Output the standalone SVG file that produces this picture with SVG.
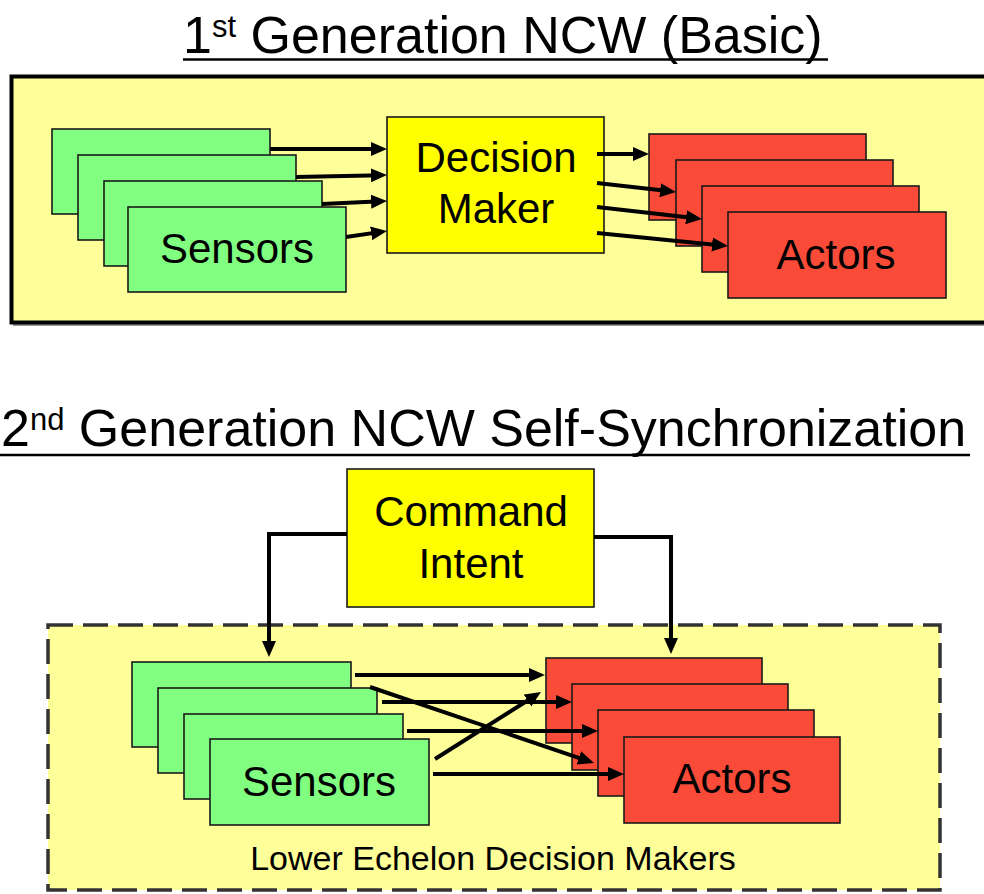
<svg xmlns="http://www.w3.org/2000/svg" width="984" height="894" viewBox="0 0 984 894">
<defs>
<style>
text{font-family:"Liberation Sans",Arial,sans-serif;fill:#000}
.title{font-size:52px}
.lbl{font-size:42px;text-anchor:middle}
.sens{fill:#80FF80;stroke:#1a1a1a;stroke-width:1.6}
.act{fill:#FA4B38;stroke:#1a1a1a;stroke-width:1.6}
.yel{fill:#FFFF00;stroke:#1a1a1a;stroke-width:1.6}
.arr{fill:none;stroke:#000;stroke-width:4;marker-end:url(#ah)}
</style>
<marker id="ah" markerUnits="userSpaceOnUse" markerWidth="18" markerHeight="16" refX="10" refY="7" orient="auto">
<path d="M0,0 L16,7 L0,14 z" fill="#000"/>
</marker>
</defs>
<rect width="984" height="894" fill="#fff"/>

<g id="title1">
<text class="title" x="183" y="53">1<tspan font-size="31" dy="-16">st</tspan><tspan dy="16"> Generation NCW (Basic)</tspan></text>
<line x1="183" y1="59.5" x2="828" y2="59.5" stroke="#000" stroke-width="2.5"/>
</g>

<g id="panel1">
<rect x="13" y="78" width="980" height="248" fill="#999"/>
<rect x="11.5" y="76.5" width="980" height="246" fill="#FFFF99" stroke="#000" stroke-width="4"/>
</g>

<g id="sensors1">
<rect class="sens" x="52" y="129" width="218" height="85"/>
<rect class="sens" x="78" y="155" width="218" height="85"/>
<rect class="sens" x="104" y="181" width="218" height="85"/>
<rect class="sens" x="128" y="207" width="218" height="85"/>
<text class="lbl" x="237" y="263">Sensors</text>
</g>

<g id="decision-maker">
<rect class="yel" x="387" y="117" width="217" height="136"/>
<text class="lbl" x="496" y="172">Decision</text>
<text class="lbl" x="496" y="223">Maker</text>
</g>

<g id="actors1">
<rect class="act" x="649" y="134" width="217" height="86"/>
<rect class="act" x="676" y="160" width="217" height="86"/>
<rect class="act" x="702" y="186" width="217" height="86"/>
<rect class="act" x="728" y="212" width="218" height="86"/>
<text class="lbl" x="836" y="269">Actors</text>
</g>

<g id="title2">
<text class="title" x="1" y="446">2<tspan font-size="31" dy="-16">nd</tspan><tspan dy="16"> Generation NCW Self-Synchronization</tspan></text>
<line x1="0" y1="455" x2="970" y2="455" stroke="#000" stroke-width="2.5"/>
</g>

<g id="command-intent">
<rect class="yel" x="347" y="469" width="247" height="138"/>
<text class="lbl" x="471" y="526">Command</text>
<text class="lbl" x="471" y="578">Intent</text>
</g>

<g id="lower-echelon">
<rect x="48" y="625" width="892" height="265" fill="#FFFF99" stroke="#333" stroke-width="3.5" stroke-dasharray="25 10"/>
<text x="493" y="870" font-size="34" text-anchor="middle">Lower Echelon Decision Makers</text>
</g>

<g id="sensors2">
<rect class="sens" x="132" y="662" width="219" height="85"/>
<rect class="sens" x="158" y="688" width="219" height="85"/>
<rect class="sens" x="184" y="714" width="219" height="85"/>
<rect class="sens" x="210" y="739" width="219" height="86"/>
<text class="lbl" x="319" y="796">Sensors</text>
</g>

<g id="actors2">
<rect class="act" x="546" y="658" width="216" height="85"/>
<rect class="act" x="572" y="684" width="216" height="86"/>
<rect class="act" x="598" y="710" width="216" height="86"/>
<rect class="act" x="624" y="737" width="216" height="86"/>
<text class="lbl" x="732" y="793">Actors</text>
</g>

<g id="connectors">
<path class="arr" d="M270,149 L381,149"/>
<path class="arr" d="M296,177 L381,175.13"/>
<path class="arr" d="M322,204 L381,201.28"/>
<path class="arr" d="M346,237 L381.06,231.87"/>
<path class="arr" d="M597,154 L643,154"/>
<path class="arr" d="M597,183 L670.04,191.32"/>
<path class="arr" d="M597,207 L696.04,218.32"/>
<path class="arr" d="M597,233 L722.03,245.41"/>
<path class="arr" d="M347,534 H269 V651"/>
<path class="arr" d="M594,537 H671 V648"/>
<path class="arr" d="M355,675 L539,675"/>
<path class="arr" d="M382,702 L566,702"/>
<path class="arr" d="M407,731 L592,731"/>
<path class="arr" d="M433,774 L618,774"/>
<path class="arr" d="M370,687 L588.32,761.07"/>
<path class="arr" d="M435,759 L535.93,695.21"/>
</g>
</svg>
